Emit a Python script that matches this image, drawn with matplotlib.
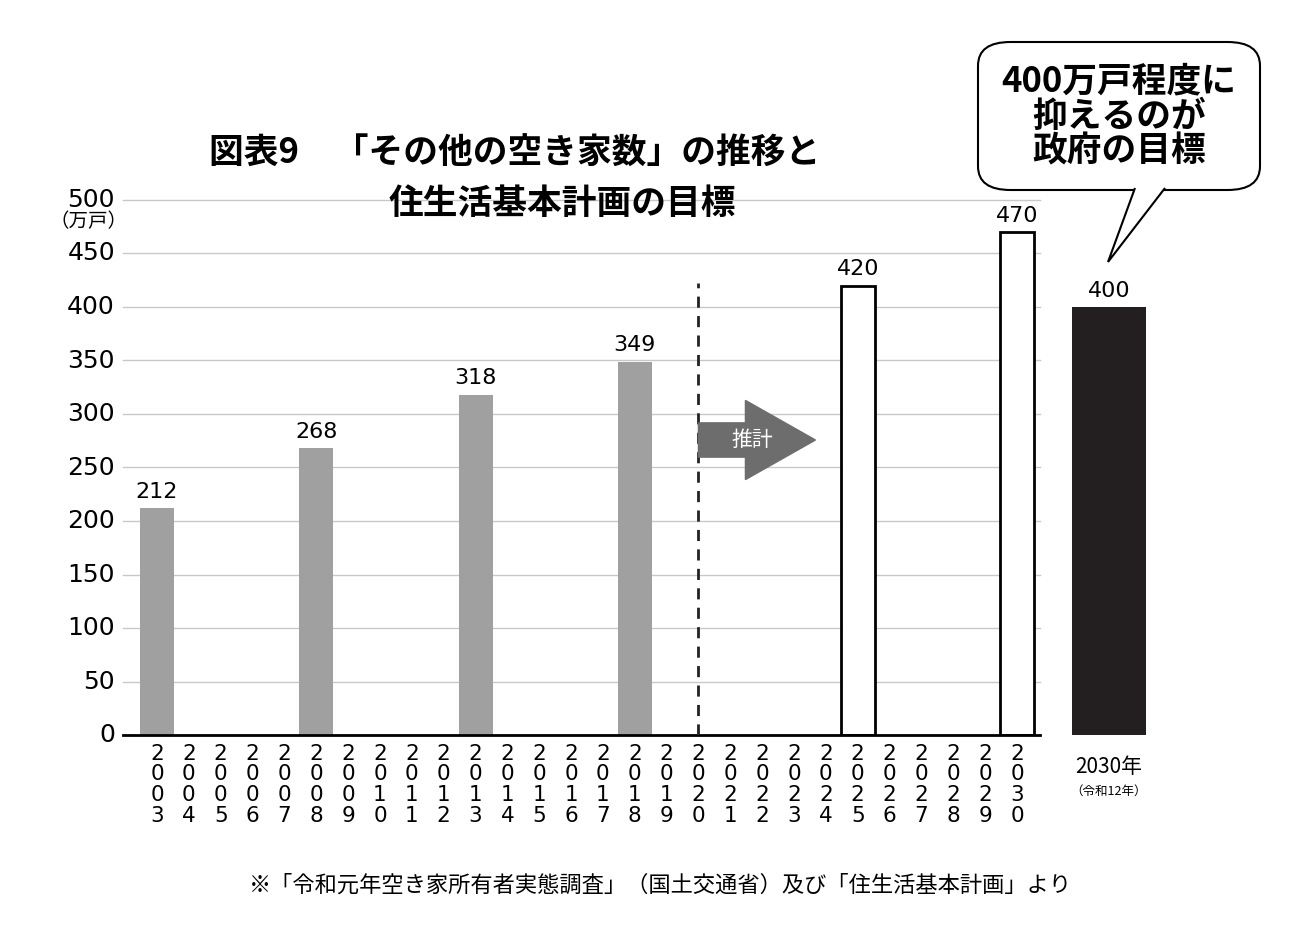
import matplotlib
matplotlib.use("Agg")
import matplotlib.pyplot as plt
from matplotlib.patches import FancyBboxPatch, Polygon, FancyArrow

plt.rcParams["font.family"] = "Noto Sans CJK JP"

years = list(range(2003, 2031))
actual_years = [2003, 2008, 2013, 2018]
actual_vals = [212, 268, 318, 349]
proj_years = [2025, 2030]
proj_vals = [420, 470]
target_val = 400
yticks = [0, 50, 100, 150, 200, 250, 300, 350, 400, 450, 500]

W, H = 1300, 947
fig = plt.figure(figsize=(13, 9.47), dpi=100)
step = 31.85
x0px = 157
ax = fig.add_axes([123/W, 1-735/H, (1160-123)/W, (735-200)/H])
xl = -34/step
xr = (1160-x0px)/step
ax.set_xlim(xl, xr)
ax.set_ylim(0, 500)
for s in ax.spines.values():
    s.set_visible(False)
ax.set_xticks([]); ax.set_yticks([])

gridr = (1040-x0px)/step
for v in yticks[1:]:
    ax.plot([xl, gridr], [v, v], color="#c8c8c8", lw=1, zorder=0, clip_on=False)
ax.plot([xl, gridr], [0, 0], color="black", lw=2, zorder=3, clip_on=False)

bw = 34/step
for y, v in zip(actual_years, actual_vals):
    i = y-2003
    ax.bar(i, v, width=bw, color="#a0a0a0", zorder=2)
    ax.text(i, v+6, str(v), ha="center", va="bottom", fontsize=16, family="DejaVu Sans")
for y, v in zip(proj_years, proj_vals):
    i = y-2003
    ax.bar(i, v, width=bw, color="white", edgecolor="black", lw=2, zorder=2)
    ax.text(i, v+6, str(v), ha="center", va="bottom", fontsize=16, family="DejaVu Sans")
ti = (1109-x0px)/step
ax.bar(ti, target_val, width=74/step, color="#231f20", zorder=2)
ax.text(ti, target_val+6, str(target_val), ha="center", va="bottom", fontsize=16, family="DejaVu Sans")

for v in yticks:
    ax.text(xl-8/step, v, str(v), ha="right", va="center", fontsize=18, family="DejaVu Sans", clip_on=False)
ax.text(xl-35/step, 480, "（万戸）", ha="center", va="center", fontsize=14, clip_on=False)

for i, y in enumerate(years):
    ax.text(i, -8, "\n".join(str(y)), ha="center", va="top", fontsize=15.5,
            family="DejaVu Sans", linespacing=1.05, clip_on=False)
ax.text(ti, -20, "2030年", ha="center", va="top", fontsize=15, clip_on=False)
ax.text(ti, -47, "（令和12年）", ha="center", va="top", fontsize=9, clip_on=False)

ax.plot([17, 17], [0, 422], ls=(0, (4, 3)), color="#222222", lw=2, zorder=3)

arr = FancyArrow(17, 275.7, (815-698)/step, 0, width=32, head_width=74,
                 head_length=(815-745)/step, length_includes_head=True,
                 color="#6d6d6d", zorder=3)
ax.add_patch(arr)
ax.text((752-x0px)/step, 275.7, "推計", ha="center", va="center", color="white", fontsize=15, zorder=4)

fig.text(515/W, 1-153/H, "図表9　「その他の空き家数」の推移と", ha="center", va="center",
         fontsize=25, fontweight="bold")
fig.text(562/W, 1-203/H, "住生活基本計画の目標", ha="center", va="center",
         fontsize=25, fontweight="bold")

box = FancyBboxPatch((978/W, 1-190/H), (1260-978)/W, (190-42)/H,
                     boxstyle="round,pad=0,rounding_size=0.025", transform=fig.transFigure,
                     facecolor="white", edgecolor="black", lw=1.5)
fig.patches.append(box)
tail = Polygon([(1135/W, 1-188/H), (1108/W, 1-262/H), (1165/W, 1-188/H)], closed=False,
               transform=fig.transFigure, facecolor="white", edgecolor="black", lw=1.5)
fig.patches.append(tail)
fig.patches.append(Polygon([(1136/W, 1-187/H), (1164/W, 1-187/H), (1150/W, 1-195/H)],
                           transform=fig.transFigure, facecolor="white", edgecolor="none"))
fig.text(1119/W, 1-116/H, "400万戸程度に\n抑えるのが\n政府の目標", ha="center", va="center",
         fontsize=25, fontweight="bold", linespacing=1.0)

fig.text(660/W, 1-885/H, "※「令和元年空き家所有者実態調査」（国土交通省）及び「住生活基本計画」より",
         ha="center", va="center", fontsize=16)

fig.savefig("out.png", dpi=100, facecolor="white")
